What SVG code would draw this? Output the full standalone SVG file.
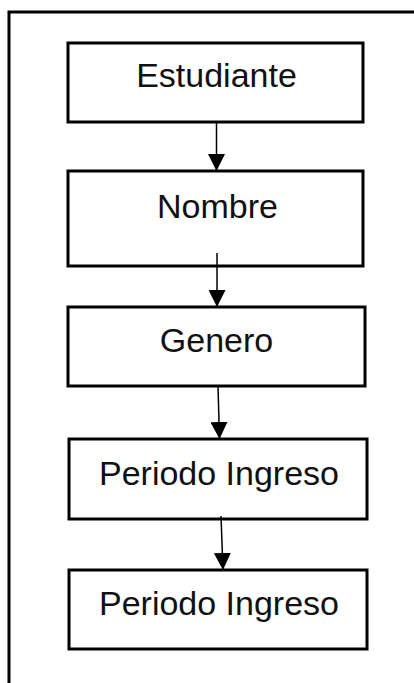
<svg xmlns="http://www.w3.org/2000/svg" width="414" height="683" viewBox="0 0 414 683">
  <style>
    .box { fill: #ffffff; stroke: #000000; stroke-width: 3; }
    .label { font-family: "Liberation Sans", Arial, sans-serif; font-size: 34px; fill: #111111; text-anchor: middle; }
    .edge { stroke: #000000; stroke-width: 1.5; fill: none; marker-end: url(#arrow); }
  </style>
  <defs>
    <marker id="arrow" viewBox="0 0 10 10" refX="10" refY="5" markerWidth="17" markerHeight="17" markerUnits="userSpaceOnUse" orient="auto">
      <path d="M0,0 L10,5 L0,10 Z" fill="#000000"/>
    </marker>
  </defs>
  <rect width="414" height="683" fill="#ffffff"/>
  <!-- outer frame, running past the right and bottom edges -->
  <path d="M9,690 L9,12 L420,12" fill="none" stroke="#000000" stroke-width="3"/>

  <g id="estudiante">
    <rect class="box" x="68" y="43" width="295" height="79"/>
    <text class="label" x="216.5" y="87">Estudiante</text>
  </g>
  <g id="nombre">
    <rect class="box" x="68" y="171" width="295" height="95"/>
    <text class="label" x="217.5" y="218">Nombre</text>
  </g>
  <g id="genero">
    <rect class="box" x="68" y="307" width="297" height="79"/>
    <text class="label" x="216.5" y="352">Genero</text>
  </g>
  <g id="periodo-ingreso-1">
    <rect class="box" x="69" y="439" width="298" height="80"/>
    <text class="label" x="219" y="485">Periodo Ingreso</text>
  </g>
  <g id="periodo-ingreso-2">
    <rect class="box" x="69" y="570" width="298" height="79"/>
    <text class="label" x="219" y="615">Periodo Ingreso</text>
  </g>

  <!-- connectors drawn on top so lines starting inside a box stay visible -->
  <g id="edges">
    <line class="edge" x1="216.5" y1="122" x2="216.5" y2="171"/>
    <line class="edge" x1="217" y1="253" x2="217" y2="307"/>
    <line class="edge" x1="218" y1="386" x2="219.5" y2="439"/>
    <line class="edge" x1="221" y1="516" x2="223" y2="570"/>
  </g>
</svg>
